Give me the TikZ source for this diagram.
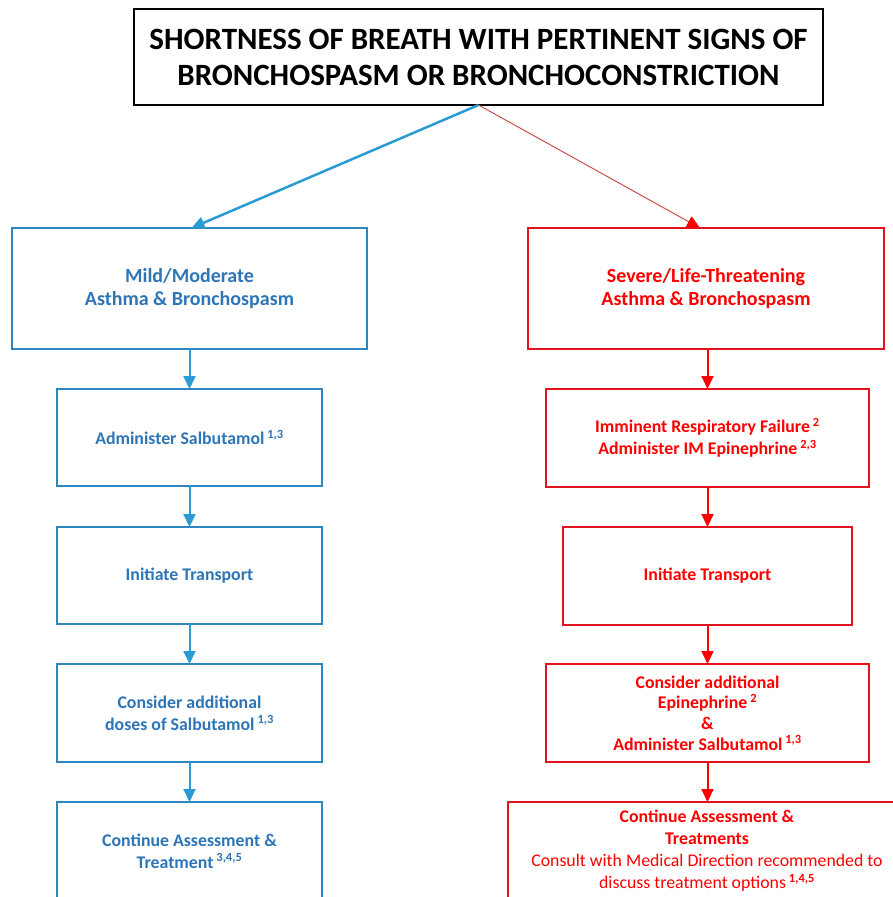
\documentclass[tikz,border=0pt]{standalone}
\usepackage{fontspec}
\setmainfont{Carlito}
\usetikzlibrary{arrows.meta}

\definecolor{bluetext}{HTML}{2E75B6}
\definecolor{blueline}{HTML}{2B9BD6}
\definecolor{blueedge}{HTML}{2E86C1}
\definecolor{redtext}{HTML}{FF0000}
\definecolor{rededge}{HTML}{E3141B}
\definecolor{redthin}{HTML}{C8504D}

\newcommand{\sups}[1]{\,\textsuperscript{#1}}

\begin{document}
\begin{tikzpicture}[x=1pt,y=-1pt,
  box/.style={draw, line width=2pt, align=center, inner sep=0pt, outer sep=0pt,
    font=\bfseries\fontsize{17.8}{22}\selectfont},
  bigbox/.style={box, font=\bfseries\fontsize{20}{23}\selectfont},
  bluebox/.style={box, draw=blueedge, text=bluetext},
  redbox/.style={box, draw=rededge, text=redtext},
  titlebox/.style={draw=black, line width=2pt, align=center, inner sep=0pt, outer sep=0pt,
    font=\bfseries\fontsize{31}{36}\selectfont},
  bluearrow/.style={draw=blueline, line width=2pt, -{Triangle[length=13pt,width=12pt]}},
  redarrow/.style={draw=redtext, line width=2pt, -{Triangle[length=13pt,width=12pt]}},
  blueslant/.style={draw=blueline, line width=2.5pt, -{Triangle[length=13pt,width=12pt]}},
  redslant/.style={draw=redthin, line width=1pt, -{Triangle[length=13pt,width=12pt,color=redtext]}}
]
\useasboundingbox (0,0) rectangle (893,897);
\clip (0,0) rectangle (893,897);
\fill[white] (0,0) rectangle (893,897);

% heading
\node[titlebox, minimum width=689pt, minimum height=96pt] (title) at (478.5,57)
  {SHORTNESS OF BREATH WITH PERTINENT SIGNS OF\\BRONCHOSPASM OR BRONCHOCONSTRICTION};

% mild / moderate column
\node[bluebox, bigbox, draw=blueedge, text=bluetext, minimum width=355pt, minimum height=121pt] (b1) at (189.5,288.5)
  {Mild/Moderate\\Asthma \& Bronchospasm};
\node[bluebox, minimum width=265pt, minimum height=97pt] (b2) at (189.5,437.5)
  {Administer Salbutamol\sups{1,3}};
\node[bluebox, minimum width=265pt, minimum height=97pt] (b3) at (189.5,575.5)
  {Initiate Transport};
\node[bluebox, minimum width=265pt, minimum height=98pt] (b4) at (189.5,713)
  {Consider additional\\doses of Salbutamol\sups{1,3}};
\node[bluebox, minimum width=265pt, minimum height=98pt] (b5) at (189.5,851)
  {Continue Assessment \&\\Treatment\sups{3,4,5}};

% severe / life-threatening column
\node[redbox, bigbox, draw=rededge, text=redtext, minimum width=356pt, minimum height=121pt] (r1) at (706,288.5)
  {Severe/Life-Threatening\\Asthma \& Bronchospasm};
\node[redbox, minimum width=323pt, minimum height=98pt] (r2) at (707.5,438)
  {Imminent Respiratory Failure\sups{2}\\Administer IM Epinephrine\sups{2,3}};
\node[redbox, minimum width=289pt, minimum height=98pt] (r3) at (707.5,576)
  {Initiate Transport};
\node[redbox, minimum width=323pt, minimum height=98pt, font=\bfseries\fontsize{17.8}{20.6}\selectfont] (r4) at (707.5,713)
  {Consider additional\\Epinephrine\sups{2}\\\&\\Administer Salbutamol\sups{1,3}};
\node[redbox, minimum width=398pt, minimum height=98pt, font=\fontsize{17.8}{22}\selectfont] (r5) at (707,851)
  {\textbf{Continue Assessment \&}\\\textbf{Treatments}\\Consult with Medical Direction recommended to\\discuss treatment options\sups{\textbf{1,4,5}}};

% connectors
\path[blueslant] (title.south) -- ([xshift=2pt]b1.north);
\path[redslant] (title.south) -- ([xshift=-6pt]r1.north);
\path[bluearrow] (b1) -- (b2);
\path[bluearrow] (b2) -- (b3);
\path[bluearrow] (b3) -- (b4);
\path[bluearrow] (b4) -- (b5);
\path[redarrow] (r1.south -| r2.north) -- (r2.north);
\path[redarrow] (r2) -- (r3);
\path[redarrow] (r3) -- (r4);
\path[redarrow] (r4) -- (r5.north -| r4.south);
\end{tikzpicture}
\end{document}
